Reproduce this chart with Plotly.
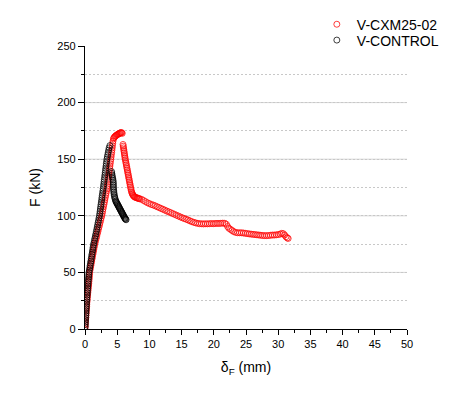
import plotly.graph_objects as go

# V-CXM25-02 (red)
cxm_x = [0, 0.03, 0.05, 0.08, 0.10, 0.13, 0.15, 0.18, 0.20, 0.23, 0.26, 0.28, 0.31,
         0.34, 0.38, 0.41, 0.44, 0.48, 0.51, 0.55, 0.58, 0.61, 0.65, 0.68, 0.70, 0.72,
         0.78, 0.85, 0.91, 0.98, 1.04, 1.10, 1.17, 1.23, 1.30, 1.36, 1.42, 1.49,
         1.56, 1.65, 1.74, 1.82, 1.91, 2.0, 2.08, 2.17, 2.26, 2.34, 2.43, 2.51, 2.60,
         2.67, 2.74, 2.80, 2.87, 2.94, 3.01, 3.07, 3.14, 3.21, 3.28, 3.35, 3.42,
         3.47, 3.52, 3.56, 3.61, 3.65, 3.70, 3.74, 3.78, 3.83, 3.87, 3.91, 3.96, 4.0,
         4.05, 4.09, 4.14, 4.18, 4.22, 4.26, 4.30, 4.35, 4.42,
         4.5, 4.6, 4.7, 4.8, 4.9, 5.0, 5.1, 5.2, 5.3, 5.4, 5.5, 5.6, 5.7, 5.78,
         5.9, 5.94, 5.98, 6.02, 6.06, 6.1, 6.14, 6.18, 6.22, 6.27, 6.32, 6.37, 6.42, 6.47, 6.52, 6.57, 6.62,
         6.67, 6.72, 6.77, 6.82, 6.87, 6.92, 6.97, 7.02, 7.07, 7.12, 7.18, 7.24, 7.31, 7.38, 7.46, 7.55,
         7.65, 7.75, 7.87, 8.0, 8.12, 8.25, 8.37, 8.5,
         8.8, 9.1, 9.4, 9.7, 10.0, 10.3, 10.6, 10.9, 11.2, 11.5, 11.8, 12.1, 12.4, 12.7,
         13.0, 13.3, 13.6, 13.9, 14.2, 14.5, 14.8, 15.1, 15.4, 15.7, 16.0, 16.3, 16.6, 16.9, 17.2, 17.5, 17.8,
         18.1, 18.4, 18.7, 19.0, 19.3, 19.6, 19.9, 20.2, 20.5, 20.8, 21.1, 21.4, 21.7, 21.95, 22.15, 22.35,
         22.6, 22.85, 23.1, 23.4, 23.7, 24.0, 24.3, 24.6, 24.9, 25.2, 25.5, 25.8, 26.1, 26.4, 26.7, 27.0, 27.3,
         27.6, 27.9, 28.2, 28.5, 28.8, 29.1, 29.4, 29.7, 30.0, 30.3, 30.55, 30.8, 31.0, 31.2, 31.4, 31.55]
cxm_f = [0, 2, 4, 6, 8, 10, 12, 14, 16, 18, 20, 22, 24,
         26, 28, 30, 32, 34, 36, 38, 40, 42, 44, 46, 48, 50,
         52, 54, 56, 58, 60, 62, 64, 66, 68, 70, 72, 74,
         76, 78, 80, 82, 84, 86, 88, 90, 92, 94, 96, 98, 100,
         102, 104, 106, 108, 110, 112, 114, 116, 118, 120, 122, 124,
         126, 128, 130, 132, 134, 136, 138, 140, 142, 144, 146, 148, 150,
         152, 154, 156, 158, 160, 162, 164, 166, 168,
         169, 169.7, 170.3, 170.8, 171.2, 171.6, 172, 172.3, 172.6, 173, 173.3, 173.5, 173.4, 172.8,
         163, 161.5, 160, 158.5, 157, 155.5, 154, 152.5, 151, 149.5, 148, 146.5, 145, 143.5, 142, 140.5, 139,
         137.5, 136, 134.5, 133, 131.5, 130, 128.5, 127, 125.5, 124, 122.5, 121, 120, 119, 118.2, 117.5,
         117, 116.5, 116.2, 116, 115.7, 115.5, 115.2, 115,
         114.5, 113.5, 112.5, 111.5, 110.8, 110, 109.5, 108.8, 108, 107.3, 106.5, 105.8, 105, 104.2,
         103.5, 102.8, 102, 101.3, 100.5, 99.8, 99, 98.3, 97.6, 97, 96.3, 95.5, 94.8, 94.2, 93.7, 93.3, 93,
         93, 92.8, 93, 92.9, 93, 93.2, 93, 93.2, 93.3, 93.2, 93.4, 93.5, 93.4, 92.5, 90.5, 89,
         88, 87, 86, 85.3, 85, 85, 85, 84.8, 84.5, 84.3, 84, 83.8, 83.6, 83.4, 83.2, 83, 82.8,
         82.6, 82.5, 82.5, 82.6, 82.8, 83, 83, 83.2, 83.4, 83.8, 84.5, 84.2, 83, 81.5, 80.5, 80]

# V-CONTROL (black)
ctl_x = [0.02, 0.04, 0.06, 0.08, 0.10, 0.12, 0.15, 0.17, 0.19, 0.21, 0.23, 0.25,
         0.27, 0.30, 0.33, 0.36, 0.39, 0.42, 0.45, 0.48, 0.50, 0.53, 0.56, 0.59, 0.62,
         0.68, 0.74, 0.79, 0.85, 0.91, 0.97, 1.02, 1.08, 1.14, 1.20, 1.25, 1.31,
         1.38, 1.46, 1.53, 1.61, 1.69, 1.76,
         1.83, 1.90, 1.97, 2.04, 2.11, 2.18, 2.25,
         2.30, 2.35, 2.39, 2.44, 2.49, 2.54, 2.59, 2.63, 2.68, 2.73, 2.78, 2.83,
         2.87, 2.92, 2.96, 3.00, 3.05, 3.09, 3.14, 3.18, 3.22, 3.27, 3.31, 3.36, 3.40,
         3.47, 3.54, 3.61, 3.68, 3.75, 3.87,
         4.13, 4.16, 4.2, 4.25, 4.3, 4.35, 4.38, 4.4, 4.4, 4.41, 4.42, 4.45, 4.48, 4.51, 4.55, 4.6, 4.65,
         4.71, 4.78, 4.85, 4.92, 4.99, 5.06, 5.13, 5.2, 5.27, 5.34, 5.41, 5.48, 5.55, 5.62, 5.69, 5.76,
         5.83, 5.9, 5.97, 6.04, 6.11, 6.18, 6.24, 6.3, 6.38]
ctl_f = [2, 4, 6, 8, 10, 12, 14, 16, 18, 20, 22, 24,
         26, 28, 30, 32, 34, 36, 38, 40, 42, 44, 46, 48, 50,
         52, 54, 56, 58, 60, 62, 64, 66, 68, 70, 72, 74,
         76, 78, 80, 82, 84, 86,
         88, 90, 92, 94, 96, 98, 100,
         102, 104, 106, 108, 110, 112, 114, 116, 118, 120, 122, 124,
         126, 128, 130, 132, 134, 136, 138, 140, 142, 144, 146, 148, 150,
         152, 154, 156, 158, 160, 162,
         139, 137.5, 136, 134.5, 133, 131.5, 130, 128.5, 127, 125.5, 124, 122.5, 121, 119.5, 118, 116.7, 115.5,
         114.2, 113, 112.2, 111.5, 110.7, 110, 109.2, 108.5, 107.7, 107, 106.2, 105.5, 104.7, 104, 103.2, 102.5,
         101.7, 101, 100.2, 99.5, 98.7, 98, 97.5, 97, 96.5]

x_ticks = [0, 5, 10, 15, 20, 25, 30, 35, 40, 45, 50]
y_ticks = [0, 50, 100, 150, 200, 250]
y_major_grid = [50, 100, 150, 200]

FONT = "Arial, Liberation Sans, sans-serif"

fig = go.Figure()
fig.add_trace(go.Scatter(
    x=cxm_x, y=cxm_f, mode="markers", name="V-CXM25-02", legend="legend",
    marker=dict(symbol="circle-open", size=6, color="rgba(255,0,0,0.75)", line=dict(width=1)),
))
fig.add_trace(go.Scatter(
    x=ctl_x, y=ctl_f, mode="markers", name="V-CONTROL", legend="legend2",
    marker=dict(symbol="circle-open", size=6, color="rgba(0,0,0,0.75)", line=dict(width=1)),
))

for g in y_major_grid:
    fig.add_shape(type="line", xref="paper", x0=0, x1=1, yref="y", y0=g, y1=g,
                  line=dict(color="#d4d4d4", width=1), layer="below")

legend_style = dict(xanchor="left", yanchor="top",
                    font=dict(size=14, family=FONT, color="black"), bgcolor="rgba(0,0,0,0)")

fig.update_layout(
    width=466, height=387,
    margin=dict(l=77, r=67, t=38, b=66, autoexpand=False),
    paper_bgcolor="white", plot_bgcolor="white",
    font=dict(family=FONT, size=11, color="black"),
    showlegend=True,
    legend=dict(x=0.72, y=1.132, **legend_style),
    legend2=dict(x=0.72, y=1.076, **legend_style),
    xaxis=dict(
        range=[0, 50], tickvals=x_ticks, ticktext=[str(v) for v in x_ticks],
        showline=True, linecolor="black", linewidth=1.3, mirror=False,
        ticks="outside", ticklen=5, tickwidth=1.2, tickcolor="black",
        showgrid=False, zeroline=False,
        minor=dict(dtick=2.5, tick0=0, ticks="outside", ticklen=3, tickwidth=1, tickcolor="black", showgrid=False),
        title=dict(text="δ<sub>F</sub> (mm)", font=dict(size=14, family=FONT, color="black"), standoff=12),
        tickfont=dict(size=11, family=FONT, color="black"),
    ),
    yaxis=dict(
        range=[0, 250], tickvals=y_ticks, ticktext=[str(v) for v in y_ticks],
        showline=True, linecolor="black", linewidth=1.3, mirror=False,
        ticks="outside", ticklen=6, tickwidth=1.2, tickcolor="black",
        showgrid=False, zeroline=False,
        minor=dict(dtick=25, tick0=0, ticks="outside", ticklen=3, tickwidth=1, tickcolor="black",
                   showgrid=True, gridcolor="#c8c8c8", griddash="2px,2px", gridwidth=1),
        title=dict(text="F (kN)", font=dict(size=14, family=FONT, color="black"), standoff=13),
        tickfont=dict(size=11, family=FONT, color="black"),
    ),
)

fig.write_html("out.html")
